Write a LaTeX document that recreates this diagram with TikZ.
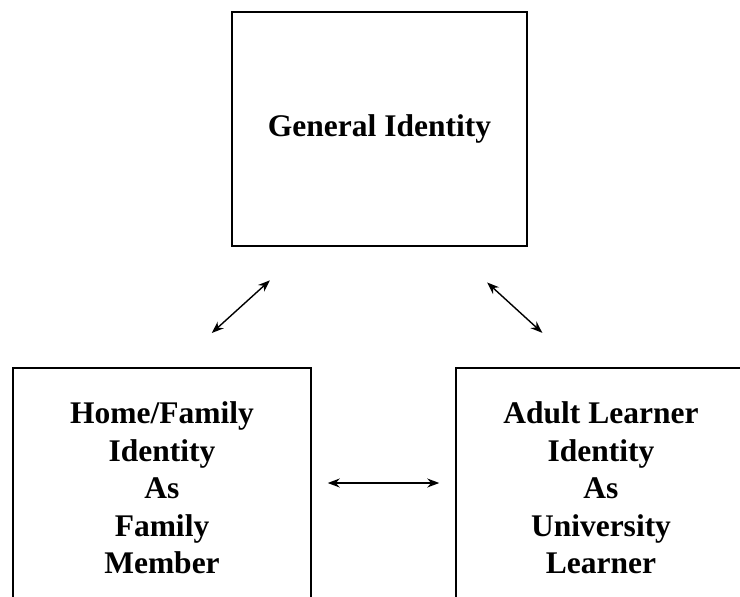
\documentclass[tikz,border=0pt]{standalone}
\usepackage{fontspec}
\setmainfont{Liberation Serif}
\usepackage{tikz}
\usetikzlibrary{arrows,arrows.meta,positioning}
\tikzstyle{idbox} = [draw=black, line width=1.5pt, align=center, inner sep=0pt, font=\fontsize{31.5}{37.5}\selectfont\bfseries]
\tikzstyle{link} = [<->, >={Stealth[length=12pt,width=9pt]}, line width=1.4pt]

\begin{document}
\begin{tikzpicture}[x=1pt, y=-1pt]
    \useasboundingbox (0,0) rectangle (740,597);
    \clip (0,0) rectangle (740,597);
    \node [idbox, minimum width=295pt, minimum height=234pt] (general) at (379.5,129) {General Identity};
    \node [idbox, minimum width=298pt, minimum height=240pt] (home) at (162,488) {Home/Family\\Identity\\As\\Family\\Member};
    \node [idbox, minimum width=290pt, minimum height=240pt] (learner) at (601,488) {Adult Learner\\Identity\\As\\University\\Learner};
    \draw [link, shorten <=50pt, shorten >=51pt] ([xshift=-72.5pt]general.south) -- ([xshift=12pt]home.north);
    \draw [link, shorten <=53pt, shorten >=51pt] ([xshift=68.5pt]general.south) -- ([xshift=-21pt]learner.north);
    \draw [link, shorten <=16pt, shorten >=16pt] ([yshift=5pt]home.east) -- ([yshift=5pt]learner.west);
\end{tikzpicture}
\end{document}
